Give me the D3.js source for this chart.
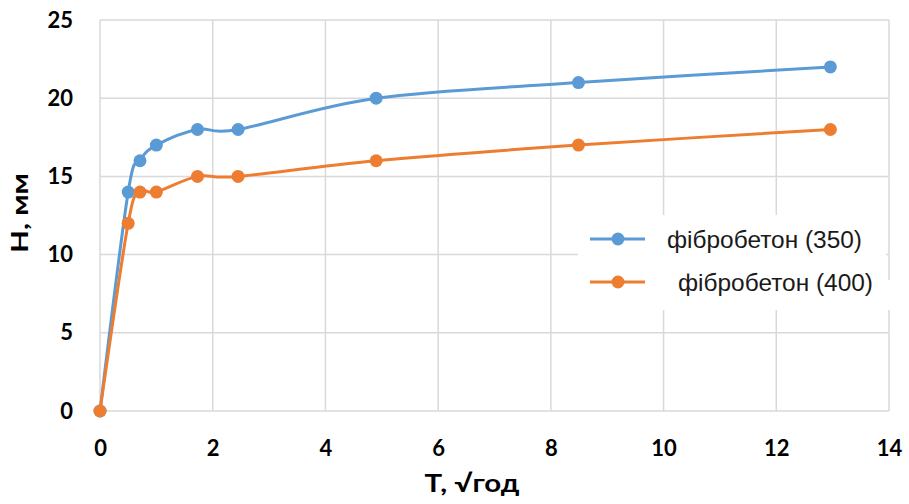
<!DOCTYPE html>
<html>
<head>
<meta charset="utf-8">
<script src="https://cdn.jsdelivr.net/npm/d3@7"></script>
<style>
  html, body { margin: 0; padding: 0; background: #fff; }
  svg { display: block; }
</style>
</head>
<body>
<svg id="chart" width="909" height="504"></svg>
<script>
// Water penetration depth vs square root of time
const timeRoot = [0, 0.5, 0.71, 1, 1.73, 2.45, 4.9, 8.49, 12.96];
const fibro350 = [0, 14, 16, 17, 18, 18, 20, 21, 22];
const fibro400 = [0, 12, 14, 14, 15, 15, 16, 17, 18];
const seriesNames = ["фібробетон (350)", "фібробетон (400)"];
const seriesColors = ["#5B9BD5", "#ED7D31"];
const xTicks = [0, 2, 4, 6, 8, 10, 12, 14];
const yTicks = [0, 5, 10, 15, 20, 25];
const xTitle = "T, √год";
const yTitle = "Н, мм";

const svg = d3.select("#chart");
const plotL = 100, plotR = 889, plotT = 20, plotB = 411;

const x = d3.scaleLinear().domain([0, 14]).range([plotL, plotR]);
const y = d3.scaleLinear().domain([0, 25]).range([plotB, plotT]);

const gridColor = "#d9d9d9";

// gridlines
svg.append("g").selectAll("line").data(yTicks).join("line")
  .attr("x1", plotL).attr("x2", plotR)
  .attr("y1", d => y(d)).attr("y2", d => y(d))
  .attr("stroke", gridColor).attr("stroke-width", 1.5);
svg.append("g").selectAll("line").data(xTicks).join("line")
  .attr("y1", plotT).attr("y2", plotB)
  .attr("x1", d => x(d)).attr("x2", d => x(d))
  .attr("stroke", gridColor).attr("stroke-width", 1.5);

// axes (labels only)
const tickFont = "Lato, 'Open Sans', sans-serif";
const xAxis = svg.append("g").attr("transform", `translate(0,${plotB})`)
  .call(d3.axisBottom(x).tickValues(xTicks).tickSize(0).tickPadding(29).tickFormat(d3.format("d")));
const yAxis = svg.append("g").attr("transform", `translate(${plotL},0)`)
  .call(d3.axisLeft(y).tickValues(yTicks).tickSize(0).tickPadding(27).tickFormat(d3.format("d")));
[xAxis, yAxis].forEach(g => {
  g.select(".domain").remove();
  g.selectAll("text")
    .attr("font-family", tickFont).attr("font-weight", 700)
    .attr("font-size", 22).attr("fill", "#000");
});

// series
const series = [fibro350, fibro400].map((vals, i) => ({
  name: seriesNames[i],
  color: seriesColors[i],
  points: timeRoot.map((t, j) => [t, vals[j]])
}));

const line = d3.line()
  .x(d => x(d[0])).y(d => y(d[1]))
  .curve(d3.curveCardinal.tension(0));

const sg = svg.append("g").selectAll("g").data(series).join("g");
sg.append("path")
  .attr("d", d => line(d.points))
  .attr("fill", "none").attr("stroke", d => d.color)
  .attr("stroke-width", 3).attr("stroke-linejoin", "round");
sg.selectAll("circle").data(d => d.points.map(p => ({p, c: d.color}))).join("circle")
  .attr("cx", d => x(d.p[0])).attr("cy", d => y(d.p[1]))
  .attr("r", 6.5).attr("fill", d => d.c);

// legend
const legend = svg.append("g");
legend.append("rect").attr("x", 578).attr("y", 215).attr("width", 308).attr("height", 95).attr("fill", "#fff");
legend.append("rect").attr("x", 884).attr("y", 280).attr("width", 10).attr("height", 30).attr("fill", "#fff");
const legendRows = [
  {yy: 239, tx: 667, tl: 195},
  {yy: 282, tx: 678, tl: 195}
];
series.forEach((s, i) => {
  const r = legendRows[i];
  legend.append("line").attr("x1", 590).attr("x2", 645).attr("y1", r.yy).attr("y2", r.yy)
    .attr("stroke", s.color).attr("stroke-width", 3);
  legend.append("circle").attr("cx", 618).attr("cy", r.yy).attr("r", 6.5).attr("fill", s.color);
  legend.append("text").attr("x", r.tx).attr("y", r.yy + 9)
    .attr("font-family", "'Liberation Sans', Arial, sans-serif")
    .attr("font-size", 23).attr("fill", "#1a1a1a")
    .attr("textLength", r.tl).attr("lengthAdjust", "spacingAndGlyphs")
    .text(s.name);
});

// axis titles
svg.append("text").attr("x", 472).attr("y", 492)
  .attr("text-anchor", "middle")
  .attr("font-family", tickFont).attr("font-weight", 700).attr("font-size", 24)
  .attr("textLength", 95).attr("lengthAdjust", "spacingAndGlyphs")
  .text(xTitle);
svg.append("text")
  .attr("transform", "translate(28,213) rotate(-90)")
  .attr("text-anchor", "middle")
  .attr("font-family", tickFont).attr("font-weight", 700).attr("font-size", 22)
  .attr("textLength", 80).attr("lengthAdjust", "spacingAndGlyphs")
  .text(yTitle);
</script>
</body>
</html>
